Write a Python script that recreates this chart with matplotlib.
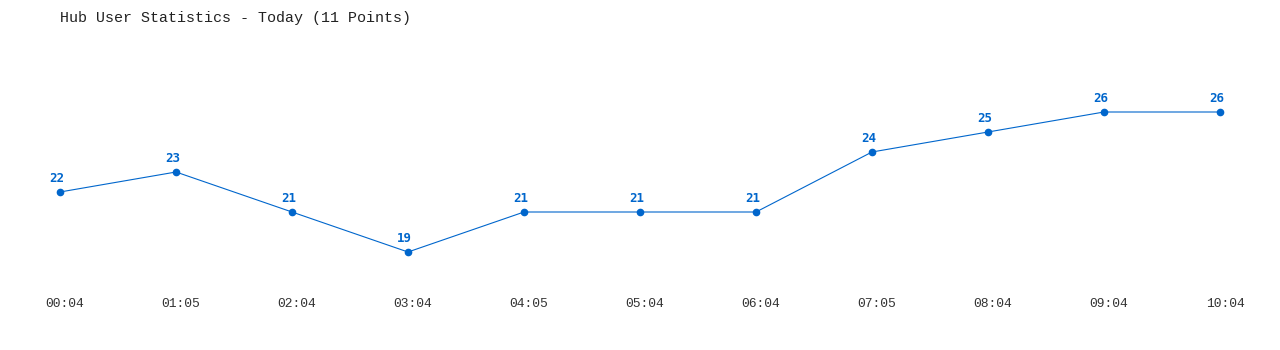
import matplotlib
matplotlib.use('Agg')
import matplotlib.pyplot as plt
import matplotlib.transforms as mtransforms

# data
times = ['00:04', '01:05', '02:04', '03:04', '04:05', '05:04',
         '06:04', '07:05', '08:04', '09:04', '10:04']
users = [22, 23, 21, 19, 21, 21, 21, 24, 25, 26, 26]

color = '#0066cc'
plt.rcParams['font.family'] = ['Liberation Mono', 'DejaVu Sans Mono']

fig = plt.figure(figsize=(12.8, 3.5), dpi=100)
ax = fig.add_axes([0, 60 / 350, 1, 290 / 350])

x = list(range(len(times)))
ax.plot(x, users, color=color, linewidth=0.8, marker='o', markersize=4.5)

# value labels sit a little left of and above each point
lbl_off = mtransforms.ScaledTranslation(-3.5 / 100, 0, fig.dpi_scale_trans)
for xi, v in zip(x, users):
    ax.text(xi, v + 0.33, str(v), color=color, fontsize=9, fontweight='bold',
            family='DejaVu Sans Mono', ha='center', va='bottom',
            transform=ax.transData + lbl_off)

ax.set_xlim(-60 / 116, (1280 - 60) / 116)
ax.set_ylim(22 - 98 / 20, 22 + 192 / 20)
ax.set_xticks(x)
ax.set_xticklabels(times, fontsize=9.4, color='#333333')
ax.tick_params(axis='x', length=0, pad=5.5)
tick_off = mtransforms.ScaledTranslation(5 / 100, 0, fig.dpi_scale_trans)
for lab in ax.get_xticklabels():
    lab.set_transform(lab.get_transform() + tick_off)
ax.set_yticks([])
for s in ax.spines.values():
    s.set_visible(False)

fig.text(60 / 1280, 1 - 18 / 350, 'Hub User Statistics - Today (11 Points)',
         fontsize=10.8, color='#222222', ha='left', va='center')

fig.savefig('out.png', dpi=100)
